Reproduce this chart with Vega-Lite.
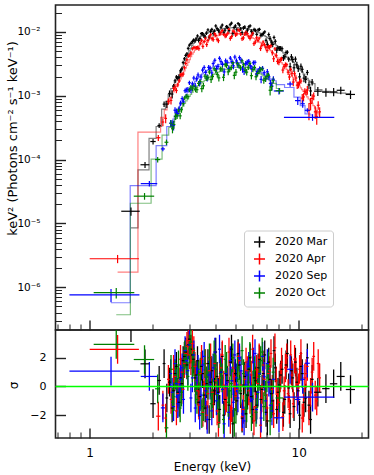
{
"$schema":"https://vega.github.io/schema/vega-lite/v6.json",
"padding":{"left":5.5,"top":4,"right":0,"bottom":0},
"spacing":0,
"bounds":"flush",
"config":{"font":"DejaVu Sans","view":{"stroke":"#222222","strokeWidth":1.6},
"axis":{"domain":false,"grid":false,"tickColor":"#222222","labelColor":"#000000","titleColor":"#000000","labelFontSize":11,"titleFontSize":12,"titleFontWeight":"normal","labelOverlap":false,"labelFlush":false,"labelBound":false},
"legend":{"symbolType":"M-1,0H1M0,-1V1","symbolSize":121,"symbolStrokeWidth":1.5,"symbolOpacity":1,"labelFontSize":11,"labelColor":"#000000","padding":5,"rowPadding":0,"strokeColor":"#cccccc","fillColor":"#ffffff","cornerRadius":3,"labelOffset":9,"symbolOffset":4}},
"datasets":{"d":[
{"s":"2020 Mar","e":1.576,"w":0.16,"f":1.55e-5,"d":2.3e-6,"m":8.5e-6,"r":4.1},
{"s":"2020 Mar","e":1.84,"w":0.09,"f":8.3e-5,"d":8.9e-6,"m":6.9e-5,"r":1.58},
{"s":"2020 Mar","e":2.01,"w":0.06,"f":1.92e-4,"d":1.9e-5,"m":2.15e-4,"r":-1.2},
{"s":"2020 Mar","e":2.15,"w":0.04,"f":3.42e-4,"d":3.0e-5,"m":3.3e-4,"r":0.42},
{"s":"2020 Mar","e":2.27,"w":0.035,"f":7.39e-4,"d":7.4e-5,"m":6.2e-4,"r":1.6},
{"s":"2020 Mar","e":2.34,"w":0.035,"f":7.41e-4,"d":9.8e-5,"m":8.2e-4,"r":-0.8},
{"s":"2020 Mar","e":2.41,"w":0.035,"f":1.088e-3,"d":1.26e-4,"m":1.05e-3,"r":0.3},
{"s":"2020 Mar","e":2.48,"w":0.037,"f":1.066e-3,"d":1.56e-4,"m":1.3e-3,"r":-1.5},
{"s":"2020 Mar","e":2.56,"w":0.038,"f":1.715e-3,"d":1.28e-4,"m":1.6e-3,"r":0.9},
{"s":"2020 Mar","e":2.64,"w":0.04,"f":1.888e-3,"d":1.56e-4,"m":1.95e-3,"r":-0.4},
{"s":"2020 Mar","e":2.72,"w":0.04,"f":2.463e-3,"d":1.88e-4,"m":2.35e-3,"r":0.6},
{"s":"2020 Mar","e":2.80,"w":0.042,"f":3.318e-3,"d":2.32e-4,"m":2.9e-3,"r":1.8},
{"s":"2020 Mar","e":2.88,"w":0.043,"f":4.29e-3,"d":2.88e-4,"m":3.6e-3,"r":2.4},
{"s":"2020 Mar","e":2.96,"w":0.044,"f":5.54e-3,"d":3.6e-4,"m":4.5e-3,"r":2.9},
{"s":"2020 Mar","e":3.05,"w":0.045,"f":6.62e-3,"d":3.92e-4,"m":5.6e-3,"r":2.6},
{"s":"2020 Mar","e":3.14,"w":0.047,"f":7.48e-3,"d":4.62e-4,"m":6.6e-3,"r":1.9},
{"s":"2020 Mar","e":3.23,"w":0.048,"f":7.81e-3,"d":5.18e-4,"m":7.4e-3,"r":0.8},
{"s":"2020 Mar","e":3.32,"w":0.05,"f":7.38e-3,"d":5.6e-4,"m":8.0e-3,"r":-1.1},
{"s":"2020 Mar","e":3.42,"w":0.051,"f":9.44e-3,"d":6.0e-4,"m":8.6e-3,"r":1.4},
{"s":"2020 Mar","e":3.52,"w":0.053,"f":8.72e-3,"d":6.4e-4,"m":9.1e-3,"r":-0.6},
{"s":"2020 Mar","e":3.62,"w":0.054,"f":9.63e-3,"d":6.65e-4,"m":9.5e-3,"r":0.2},
{"s":"2020 Mar","e":3.73,"w":0.056,"f":8.31e-3,"d":6.9e-4,"m":9.9e-3,"r":-2.3},
{"s":"2020 Mar","e":3.84,"w":0.058,"f":1.099e-2,"d":7.1e-4,"m":1.02e-2,"r":1.1},
{"s":"2020 Mar","e":3.95,"w":0.059,"f":1.028e-2,"d":7.35e-4,"m":1.05e-2,"r":-0.3},
{"s":"2020 Mar","e":4.07,"w":0.061,"f":1.133e-2,"d":7.6e-4,"m":1.08e-2,"r":0.7},
{"s":"2020 Mar","e":4.19,"w":0.063,"f":9.77e-3,"d":7.7e-4,"m":1.10e-2,"r":-1.6},
{"s":"2020 Mar","e":4.31,"w":0.065,"f":1.285e-2,"d":7.8e-4,"m":1.12e-2,"r":2.1},
{"s":"2020 Mar","e":4.44,"w":0.067,"f":1.068e-2,"d":8.0e-4,"m":1.14e-2,"r":-0.9},
{"s":"2020 Mar","e":4.57,"w":0.069,"f":1.182e-2,"d":8.05e-4,"m":1.15e-2,"r":0.4},
{"s":"2020 Mar","e":4.70,"w":0.07,"f":1.298e-2,"d":8.1e-4,"m":1.16e-2,"r":1.7},
{"s":"2020 Mar","e":4.84,"w":0.073,"f":9.57e-3,"d":8.2e-4,"m":1.17e-2,"r":-2.6},
{"s":"2020 Mar","e":4.98,"w":0.075,"f":1.244e-2,"d":8.2e-4,"m":1.17e-2,"r":0.9},
{"s":"2020 Mar","e":5.13,"w":0.077,"f":1.358e-2,"d":8.2e-4,"m":1.17e-2,"r":2.3},
{"s":"2020 Mar","e":5.28,"w":0.079,"f":1.119e-2,"d":8.1e-4,"m":1.16e-2,"r":-0.5},
{"s":"2020 Mar","e":5.44,"w":0.082,"f":1.158e-2,"d":8.05e-4,"m":1.15e-2,"r":0.1},
{"s":"2020 Mar","e":5.60,"w":0.084,"f":9.8e-3,"d":7.9e-4,"m":1.13e-2,"r":-1.9},
{"s":"2020 Mar","e":5.77,"w":0.087,"f":1.203e-2,"d":7.8e-4,"m":1.11e-2,"r":1.2},
{"s":"2020 Mar","e":5.94,"w":0.089,"f":1.027e-2,"d":7.6e-4,"m":1.08e-2,"r":-0.7},
{"s":"2020 Mar","e":6.12,"w":0.092,"f":1.094e-2,"d":7.35e-4,"m":1.05e-2,"r":0.6},
{"s":"2020 Mar","e":6.30,"w":0.095,"f":9.18e-3,"d":7.1e-4,"m":1.01e-2,"r":-1.3},
{"s":"2020 Mar","e":6.49,"w":0.097,"f":1.099e-2,"d":6.8e-4,"m":9.7e-3,"r":1.9},
{"s":"2020 Mar","e":6.68,"w":0.1,"f":9.07e-3,"d":6.4e-4,"m":9.2e-3,"r":-0.2},
{"s":"2020 Mar","e":6.88,"w":0.103,"f":1.004e-2,"d":6.1e-4,"m":8.7e-3,"r":2.2},
{"s":"2020 Mar","e":7.08,"w":0.106,"f":6.43e-3,"d":7.4e-4,"m":8.2e-3,"r":-2.4},
{"s":"2020 Mar","e":7.29,"w":0.11,"f":7.94e-3,"d":6.8e-4,"m":7.6e-3,"r":0.5},
{"s":"2020 Mar","e":7.51,"w":0.113,"f":6.37e-3,"d":6.3e-4,"m":7.0e-3,"r":-1.0},
{"s":"2020 Mar","e":7.73,"w":0.116,"f":7.15e-3,"d":5.8e-4,"m":6.4e-3,"r":1.3},
{"s":"2020 Mar","e":7.96,"w":0.12,"f":5.59e-3,"d":5.2e-4,"m":5.8e-3,"r":-0.4},
{"s":"2020 Mar","e":8.20,"w":0.123,"f":5.57e-3,"d":4.7e-4,"m":5.2e-3,"r":0.8},
{"s":"2020 Mar","e":8.45,"w":0.127,"f":3.94e-3,"d":4.2e-4,"m":4.7e-3,"r":-1.8},
{"s":"2020 Mar","e":8.70,"w":0.13,"f":4.77e-3,"d":3.8e-4,"m":4.2e-3,"r":1.5},
{"s":"2020 Mar","e":8.96,"w":0.134,"f":3.77e-3,"d":3.4e-4,"m":3.8e-3,"r":-0.1},
{"s":"2020 Mar","e":9.23,"w":0.138,"f":4.08e-3,"d":4.3e-4,"m":3.6e-3,"r":1.1},
{"s":"2020 Mar","e":9.50,"w":0.143,"f":2.75e-3,"d":4.0e-4,"m":3.3e-3,"r":-1.4},
{"s":"2020 Mar","e":9.80,"w":0.147,"f":3.06e-3,"d":3.5e-4,"m":2.95e-3,"r":0.3},
{"s":"2020 Mar","e":10.1,"w":0.15,"f":1.98e-3,"d":3.1e-4,"m":2.6e-3,"r":-2.0},
{"s":"2020 Mar","e":10.4,"w":0.16,"f":2.6e-3,"d":2.8e-4,"m":2.35e-3,"r":0.9},
{"s":"2020 Mar","e":10.8,"w":0.17,"f":1.81e-3,"d":2.4e-4,"m":2.0e-3,"r":-0.8},
{"s":"2020 Mar","e":11.2,"w":0.18,"f":1.48e-3,"d":2.1e-4,"m":1.75e-3,"r":-1.3},
{"s":"2020 Mar","e":11.6,"w":0.19,"f":1.64e-3,"d":1.86e-4,"m":1.55e-3,"r":0.5},
{"s":"2020 Mar","e":12.35,"w":0.5,"f":1.18e-3,"d":1.9e-4,"m":1.25e-3,"r":-0.4},
{"s":"2020 Mar","e":13.5,"w":0.55,"f":1.14e-3,"d":1.75e-4,"m":1.17e-3,"r":-0.15},
{"s":"2020 Mar","e":14.7,"w":0.6,"f":1.15e-3,"d":1.7e-4,"m":1.12e-3,"r":0.19},
{"s":"2020 Mar","e":15.9,"w":0.7,"f":1.22e-3,"d":1.65e-4,"m":1.1e-3,"r":0.7},
{"s":"2020 Mar","e":17.7,"w":0.9,"f":1.05e-3,"d":1.6e-4,"m":1.08e-3,"r":-0.21},
{"s":"2020 Mar","e":2.52,"w":0.038,"f":1.415e-3,"d":1.16e-4,"m":1.45e-3,"r":-0.3},
{"s":"2020 Mar","e":2.60,"w":0.039,"f":1.968e-3,"d":1.42e-4,"m":1.77e-3,"r":1.4},
{"s":"2020 Mar","e":2.68,"w":0.04,"f":1.96e-3,"d":1.72e-4,"m":2.15e-3,"r":-1.1},
{"s":"2020 Mar","e":2.76,"w":0.041,"f":2.64e-3,"d":2.08e-4,"m":2.6e-3,"r":0.2},
{"s":"2020 Mar","e":2.84,"w":0.043,"f":3.8e-3,"d":2.6e-4,"m":3.25e-3,"r":2.1},
{"s":"2020 Mar","e":2.92,"w":0.044,"f":4.54e-3,"d":3.24e-4,"m":4.05e-3,"r":1.5},
{"s":"2020 Mar","e":3.00,"w":0.045,"f":6.22e-3,"d":3.54e-4,"m":5.05e-3,"r":3.3},
{"s":"2020 Mar","e":3.10,"w":0.047,"f":7.04e-3,"d":4.27e-4,"m":6.1e-3,"r":2.2},
{"s":"2020 Mar","e":3.19,"w":0.048,"f":7.29e-3,"d":4.9e-4,"m":7.0e-3,"r":0.6},
{"s":"2020 Mar","e":3.28,"w":0.049,"f":8.67e-3,"d":5.4e-4,"m":7.7e-3,"r":1.8},
{"s":"2020 Mar","e":3.37,"w":0.05,"f":7.89e-3,"d":5.8e-4,"m":8.3e-3,"r":-0.7},
{"s":"2020 Mar","e":3.47,"w":0.052,"f":9.41e-3,"d":6.2e-4,"m":8.85e-3,"r":0.9},
{"s":"2020 Mar","e":3.57,"w":0.054,"f":8.32e-3,"d":6.5e-4,"m":9.3e-3,"r":-1.5},
{"s":"2020 Mar","e":3.68,"w":0.055,"f":1.079e-2,"d":6.8e-4,"m":9.7e-3,"r":1.6},
{"s":"2020 Mar","e":3.79,"w":0.057,"f":1.026e-2,"d":7.0e-4,"m":1.005e-2,"r":0.3},
{"s":"2020 Mar","e":3.90,"w":0.059,"f":9.48e-3,"d":7.2e-4,"m":1.035e-2,"r":-1.2},
{"s":"2020 Mar","e":4.01,"w":0.06,"f":1.244e-2,"d":7.5e-4,"m":1.065e-2,"r":2.4},
{"s":"2020 Mar","e":4.13,"w":0.062,"f":1.059e-2,"d":7.6e-4,"m":1.09e-2,"r":-0.4},
{"s":"2020 Mar","e":4.25,"w":0.064,"f":1.188e-2,"d":7.8e-4,"m":1.11e-2,"r":1.0},
{"s":"2020 Mar","e":4.38,"w":0.066,"f":9.72e-3,"d":7.9e-4,"m":1.13e-2,"r":-2.0},
{"s":"2020 Mar","e":4.51,"w":0.068,"f":1.209e-2,"d":8.0e-4,"m":1.145e-2,"r":0.8},
{"s":"2020 Mar","e":4.64,"w":0.07,"f":1.05e-2,"d":8.1e-4,"m":1.155e-2,"r":-1.3},
{"s":"2020 Mar","e":4.77,"w":0.072,"f":1.377e-2,"d":8.2e-4,"m":1.165e-2,"r":2.6},
{"s":"2020 Mar","e":4.91,"w":0.074,"f":1.17e-2,"d":8.2e-4,"m":1.17e-2,"r":0.0},
{"s":"2020 Mar","e":5.06,"w":0.076,"f":1.088e-2,"d":8.2e-4,"m":1.17e-2,"r":-1.0},
{"s":"2020 Mar","e":5.21,"w":0.078,"f":1.287e-2,"d":8.2e-4,"m":1.165e-2,"r":1.5},
{"s":"2020 Mar","e":5.36,"w":0.08,"f":9.77e-3,"d":8.1e-4,"m":1.155e-2,"r":-2.2},
{"s":"2020 Mar","e":5.52,"w":0.083,"f":1.196e-2,"d":8.0e-4,"m":1.14e-2,"r":0.7},
{"s":"2020 Mar","e":5.69,"w":0.085,"f":1.073e-2,"d":7.8e-4,"m":1.12e-2,"r":-0.6},
{"s":"2020 Mar","e":5.86,"w":0.088,"f":1.248e-2,"d":7.7e-4,"m":1.095e-2,"r":2.0},
{"s":"2020 Mar","e":6.03,"w":0.09,"f":9.46e-3,"d":7.5e-4,"m":1.065e-2,"r":-1.6},
{"s":"2020 Mar","e":6.21,"w":0.093,"f":1.059e-2,"d":7.2e-4,"m":1.03e-2,"r":0.4},
{"s":"2020 Mar","e":6.40,"w":0.096,"f":1.08e-2,"d":6.9e-4,"m":9.9e-3,"r":1.3},
{"s":"2020 Mar","e":6.59,"w":0.099,"f":8.85e-3,"d":6.6e-4,"m":9.45e-3,"r":-0.9},
{"s":"2020 Mar","e":6.78,"w":0.1,"f":9.51e-3,"d":6.3e-4,"m":8.95e-3,"r":0.9},
{"s":"2020 Mar","e":6.98,"w":0.104,"f":7.39e-3,"d":5.9e-4,"m":8.45e-3,"r":-1.8},
{"s":"2020 Mar","e":7.19,"w":0.108,"f":9.11e-3,"d":7.1e-4,"m":7.9e-3,"r":1.7},
{"s":"2020 Mar","e":7.40,"w":0.111,"f":6.97e-3,"d":6.6e-4,"m":7.3e-3,"r":-0.5},
{"s":"2020 Mar","e":7.62,"w":0.114,"f":8.21e-3,"d":6.0e-4,"m":6.7e-3,"r":2.5},
{"s":"2020 Mar","e":7.85,"w":0.118,"f":5.22e-3,"d":5.5e-4,"m":6.1e-3,"r":-1.6},
{"s":"2020 Mar","e":8.08,"w":0.121,"f":5.55e-3,"d":5.0e-4,"m":5.5e-3,"r":0.1},
{"s":"2020 Mar","e":8.33,"w":0.125,"f":5.48e-3,"d":4.5e-4,"m":4.95e-3,"r":1.2},
{"s":"2020 Mar","e":8.58,"w":0.129,"f":4.09e-3,"d":4.0e-4,"m":4.45e-3,"r":-0.9},
{"s":"2020 Mar","e":8.83,"w":0.132,"f":4.83e-3,"d":3.6e-4,"m":4.0e-3,"r":2.3},
{"s":"2020 Mar","e":9.1,"w":0.136,"f":2.86e-3,"d":4.4e-4,"m":3.7e-3,"r":-1.9},
{"s":"2020 Mar","e":9.37,"w":0.14,"f":3.7e-3,"d":4.1e-4,"m":3.45e-3,"r":0.6},
{"s":"2020 Mar","e":9.65,"w":0.145,"f":3.76e-3,"d":3.7e-4,"m":3.12e-3,"r":1.7},
{"s":"2020 Mar","e":9.95,"w":0.15,"f":2.68e-3,"d":3.3e-4,"m":2.78e-3,"r":-0.3},
{"s":"2020 Mar","e":10.25,"w":0.154,"f":2.9e-3,"d":3.0e-4,"m":2.48e-3,"r":1.4},
{"s":"2020 Mar","e":10.6,"w":0.16,"f":1.89e-3,"d":2.6e-4,"m":2.18e-3,"r":-1.1},
{"s":"2020 Mar","e":11.0,"w":0.165,"f":2.32e-3,"d":2.2e-4,"m":1.87e-3,"r":2.0},
{"s":"2020 Mar","e":11.4,"w":0.17,"f":1.19e-3,"d":2.0e-4,"m":1.65e-3,"r":-2.3},
{"s":"2020 Apr","e":1.36,"w":0.36,"f":2.79e-6,"d":4.1e-7,"m":1.72e-6,"r":2.58},
{"s":"2020 Apr","e":2.13,"w":0.05,"f":2.2e-4,"d":2.4e-5,"m":2.7e-4,"r":-2.07},
{"s":"2020 Apr","e":2.24,"w":0.034,"f":3.88e-4,"d":5.5e-5,"m":4.6e-4,"r":-1.3},
{"s":"2020 Apr","e":2.31,"w":0.035,"f":4.42e-4,"d":7.2e-5,"m":6.0e-4,"r":-2.2},
{"s":"2020 Apr","e":2.38,"w":0.036,"f":8.16e-4,"d":9.2e-5,"m":7.7e-4,"r":0.5},
{"s":"2020 Apr","e":2.45,"w":0.037,"f":8.47e-4,"d":1.14e-4,"m":9.5e-4,"r":-0.9},
{"s":"2020 Apr","e":2.52,"w":0.038,"f":1.316e-3,"d":1.38e-4,"m":1.15e-3,"r":1.2},
{"s":"2020 Apr","e":2.60,"w":0.039,"f":1.21e-3,"d":1.12e-4,"m":1.4e-3,"r":-1.7},
{"s":"2020 Apr","e":2.68,"w":0.04,"f":1.72e-3,"d":1.34e-4,"m":1.68e-3,"r":0.3},
{"s":"2020 Apr","e":2.76,"w":0.041,"f":2.16e-3,"d":1.6e-4,"m":2.0e-3,"r":1.0},
{"s":"2020 Apr","e":2.84,"w":0.043,"f":2.76e-3,"d":1.96e-4,"m":2.45e-3,"r":1.6},
{"s":"2020 Apr","e":2.92,"w":0.044,"f":3.67e-3,"d":2.4e-4,"m":3.0e-3,"r":2.8},
{"s":"2020 Apr","e":3.01,"w":0.045,"f":4.35e-3,"d":2.96e-4,"m":3.7e-3,"r":2.2},
{"s":"2020 Apr","e":3.10,"w":0.047,"f":5.45e-3,"d":3.15e-4,"m":4.5e-3,"r":3.0},
{"s":"2020 Apr","e":3.19,"w":0.048,"f":5.71e-3,"d":3.64e-4,"m":5.2e-3,"r":1.4},
{"s":"2020 Apr","e":3.28,"w":0.049,"f":5.68e-3,"d":4.06e-4,"m":5.8e-3,"r":-0.3},
{"s":"2020 Apr","e":3.38,"w":0.051,"f":6.7e-3,"d":4.4e-4,"m":6.3e-3,"r":0.9},
{"s":"2020 Apr","e":3.48,"w":0.052,"f":5.94e-3,"d":4.76e-4,"m":6.8e-3,"r":-1.8},
{"s":"2020 Apr","e":3.58,"w":0.054,"f":8.01e-3,"d":5.0e-4,"m":7.2e-3,"r":1.6},
{"s":"2020 Apr","e":3.68,"w":0.055,"f":7.33e-3,"d":5.3e-4,"m":7.6e-3,"r":-0.5},
{"s":"2020 Apr","e":3.79,"w":0.057,"f":9.06e-3,"d":5.6e-4,"m":7.95e-3,"r":2.0},
{"s":"2020 Apr","e":3.90,"w":0.059,"f":7.6e-3,"d":5.8e-4,"m":8.3e-3,"r":-1.2},
{"s":"2020 Apr","e":4.01,"w":0.06,"f":8.84e-3,"d":6.0e-4,"m":8.6e-3,"r":0.4},
{"s":"2020 Apr","e":4.13,"w":0.062,"f":7.3e-3,"d":6.2e-4,"m":8.85e-3,"r":-2.5},
{"s":"2020 Apr","e":4.25,"w":0.064,"f":9.87e-3,"d":6.3e-4,"m":9.05e-3,"r":1.3},
{"s":"2020 Apr","e":4.38,"w":0.066,"f":9.26e-3,"d":6.4e-4,"m":9.2e-3,"r":0.1},
{"s":"2020 Apr","e":4.51,"w":0.068,"f":8.83e-3,"d":6.5e-4,"m":9.35e-3,"r":-0.8},
{"s":"2020 Apr","e":4.64,"w":0.07,"f":1.104e-2,"d":6.6e-4,"m":9.45e-3,"r":2.4},
{"s":"2020 Apr","e":4.78,"w":0.072,"f":8.5e-3,"d":6.65e-4,"m":9.5e-3,"r":-1.5},
{"s":"2020 Apr","e":4.92,"w":0.074,"f":9.97e-3,"d":6.65e-4,"m":9.5e-3,"r":0.7},
{"s":"2020 Apr","e":5.06,"w":0.076,"f":9.32e-3,"d":6.6e-4,"m":9.45e-3,"r":-0.2},
{"s":"2020 Apr","e":5.21,"w":0.078,"f":1.053e-2,"d":6.5e-4,"m":9.35e-3,"r":1.8},
{"s":"2020 Apr","e":5.36,"w":0.08,"f":7.85e-3,"d":6.4e-4,"m":9.2e-3,"r":-2.1},
{"s":"2020 Apr","e":5.52,"w":0.083,"f":9.32e-3,"d":6.3e-4,"m":9.0e-3,"r":0.5},
{"s":"2020 Apr","e":5.68,"w":0.085,"f":9.42e-3,"d":6.1e-4,"m":8.75e-3,"r":1.1},
{"s":"2020 Apr","e":5.85,"w":0.088,"f":7.92e-3,"d":5.9e-4,"m":8.45e-3,"r":-0.9},
{"s":"2020 Apr","e":6.02,"w":0.09,"f":9.57e-3,"d":5.7e-4,"m":8.1e-3,"r":2.6},
{"s":"2020 Apr","e":6.20,"w":0.093,"f":6.95e-3,"d":5.4e-4,"m":7.7e-3,"r":-1.4},
{"s":"2020 Apr","e":6.38,"w":0.096,"f":7.35e-3,"d":5.1e-4,"m":7.25e-3,"r":0.2},
{"s":"2020 Apr","e":6.57,"w":0.099,"f":5.51e-3,"d":4.8e-4,"m":6.8e-3,"r":-2.7},
{"s":"2020 Apr","e":6.76,"w":0.1,"f":6.96e-3,"d":4.4e-4,"m":6.3e-3,"r":1.5},
{"s":"2020 Apr","e":6.96,"w":0.104,"f":5.7e-3,"d":4.2e-4,"m":5.95e-3,"r":-0.6},
{"s":"2020 Apr","e":7.16,"w":0.107,"f":5.95e-3,"d":5.0e-4,"m":5.5e-3,"r":0.9},
{"s":"2020 Apr","e":7.37,"w":0.11,"f":6.1e-3,"d":4.5e-4,"m":5.05e-3,"r":2.3},
{"s":"2020 Apr","e":7.59,"w":0.114,"f":3.81e-3,"d":4.1e-4,"m":4.6e-3,"r":-1.9},
{"s":"2020 Apr","e":7.81,"w":0.117,"f":4.3e-3,"d":3.7e-4,"m":4.15e-3,"r":0.4},
{"s":"2020 Apr","e":8.04,"w":0.12,"f":3.33e-3,"d":3.3e-4,"m":3.7e-3,"r":-1.1},
{"s":"2020 Apr","e":8.28,"w":0.124,"f":3.8e-3,"d":3.0e-4,"m":3.3e-3,"r":1.7},
{"s":"2020 Apr","e":8.52,"w":0.128,"f":2.87e-3,"d":2.66e-4,"m":2.95e-3,"r":-0.3},
{"s":"2020 Apr","e":8.77,"w":0.13,"f":3.07e-3,"d":2.34e-4,"m":2.6e-3,"r":2.0},
{"s":"2020 Apr","e":9.03,"w":0.135,"f":1.97e-3,"d":2.07e-4,"m":2.3e-3,"r":-1.6},
{"s":"2020 Apr","e":9.29,"w":0.14,"f":2.25e-3,"d":2.46e-4,"m":2.05e-3,"r":0.8},
{"s":"2020 Apr","e":9.56,"w":0.143,"f":2.21e-3,"d":2.16e-4,"m":1.8e-3,"r":1.9},
{"s":"2020 Apr","e":9.84,"w":0.148,"f":1.47e-3,"d":1.92e-4,"m":1.6e-3,"r":-0.7},
{"s":"2020 Apr","e":10.1,"w":0.15,"f":1.62e-3,"d":1.7e-4,"m":1.42e-3,"r":1.2},
{"s":"2020 Apr","e":10.4,"w":0.156,"f":9.2e-4,"d":1.5e-4,"m":1.25e-3,"r":-2.2},
{"s":"2020 Apr","e":10.7,"w":0.16,"f":1.18e-3,"d":1.32e-4,"m":1.1e-3,"r":0.6},
{"s":"2020 Apr","e":11.0,"w":0.165,"f":1.23e-3,"d":1.92e-4,"m":9.6e-4,"r":1.4},
{"s":"2020 Apr","e":11.4,"w":0.17,"f":7.6e-4,"d":1.66e-4,"m":8.3e-4,"r":-0.4},
{"s":"2020 Apr","e":11.8,"w":0.18,"f":9.9e-4,"d":1.4e-4,"m":7.0e-4,"r":2.1},
{"s":"2020 Apr","e":12.2,"w":0.18,"f":4.7e-4,"d":1.18e-4,"m":5.9e-4,"r":-1.0},
{"s":"2020 Apr","e":12.6,"w":0.19,"f":5.6e-4,"d":1.0e-4,"m":5.0e-4,"r":0.6},
{"s":"2020 Apr","e":2.56,"w":0.038,"f":1.377e-3,"d":1.52e-4,"m":1.27e-3,"r":0.7},
{"s":"2020 Apr","e":2.64,"w":0.04,"f":1.478e-3,"d":1.23e-4,"m":1.54e-3,"r":-0.5},
{"s":"2020 Apr","e":2.72,"w":0.041,"f":2.12e-3,"d":1.47e-4,"m":1.84e-3,"r":1.9},
{"s":"2020 Apr","e":2.80,"w":0.042,"f":2.18e-3,"d":1.78e-4,"m":2.22e-3,"r":-0.2},
{"s":"2020 Apr","e":2.88,"w":0.043,"f":3.22e-3,"d":2.18e-4,"m":2.72e-3,"r":2.3},
{"s":"2020 Apr","e":2.97,"w":0.045,"f":4.21e-3,"d":2.68e-4,"m":3.35e-3,"r":3.2},
{"s":"2020 Apr","e":3.05,"w":0.046,"f":4.69e-3,"d":3.28e-4,"m":4.1e-3,"r":1.8},
{"s":"2020 Apr","e":3.15,"w":0.047,"f":5.7e-3,"d":3.4e-4,"m":4.85e-3,"r":2.5},
{"s":"2020 Apr","e":3.24,"w":0.049,"f":5.65e-3,"d":3.85e-4,"m":5.5e-3,"r":0.4},
{"s":"2020 Apr","e":3.33,"w":0.05,"f":5.5e-3,"d":4.2e-4,"m":6.05e-3,"r":-1.3},
{"s":"2020 Apr","e":3.43,"w":0.051,"f":7.42e-3,"d":4.6e-4,"m":6.55e-3,"r":1.9},
{"s":"2020 Apr","e":3.53,"w":0.053,"f":7.1e-3,"d":4.9e-4,"m":7.0e-3,"r":0.2},
{"s":"2020 Apr","e":3.63,"w":0.054,"f":6.36e-3,"d":5.2e-4,"m":7.4e-3,"r":-2.0},
{"s":"2020 Apr","e":3.74,"w":0.056,"f":8.38e-3,"d":5.4e-4,"m":7.78e-3,"r":1.1},
{"s":"2020 Apr","e":3.85,"w":0.058,"f":7.89e-3,"d":5.7e-4,"m":8.12e-3,"r":-0.4},
{"s":"2020 Apr","e":3.96,"w":0.059,"f":9.4e-3,"d":5.9e-4,"m":8.45e-3,"r":1.6},
{"s":"2020 Apr","e":4.07,"w":0.061,"f":7.68e-3,"d":6.1e-4,"m":8.72e-3,"r":-1.7},
{"s":"2020 Apr","e":4.19,"w":0.063,"f":9.33e-3,"d":6.3e-4,"m":8.95e-3,"r":0.6},
{"s":"2020 Apr","e":4.31,"w":0.065,"f":1.052e-2,"d":6.4e-4,"m":9.12e-3,"r":2.2},
{"s":"2020 Apr","e":4.45,"w":0.067,"f":8.63e-3,"d":6.5e-4,"m":9.28e-3,"r":-1.0},
{"s":"2020 Apr","e":4.58,"w":0.069,"f":9.6e-3,"d":6.6e-4,"m":9.4e-3,"r":0.3},
{"s":"2020 Apr","e":4.71,"w":0.071,"f":7.95e-3,"d":6.6e-4,"m":9.48e-3,"r":-2.3},
{"s":"2020 Apr","e":4.85,"w":0.073,"f":1.036e-2,"d":6.65e-4,"m":9.5e-3,"r":1.3},
{"s":"2020 Apr","e":4.99,"w":0.075,"f":9.02e-3,"d":6.6e-4,"m":9.48e-3,"r":-0.7},
{"s":"2020 Apr","e":5.13,"w":0.077,"f":1.078e-2,"d":6.6e-4,"m":9.4e-3,"r":2.1},
{"s":"2020 Apr","e":5.28,"w":0.079,"f":9.34e-3,"d":6.5e-4,"m":9.28e-3,"r":0.1},
{"s":"2020 Apr","e":5.44,"w":0.082,"f":8.08e-3,"d":6.4e-4,"m":9.1e-3,"r":-1.6},
{"s":"2020 Apr","e":5.60,"w":0.084,"f":9.94e-3,"d":6.2e-4,"m":8.88e-3,"r":1.7},
{"s":"2020 Apr","e":5.77,"w":0.087,"f":8.42e-3,"d":6.0e-4,"m":8.6e-3,"r":-0.3},
{"s":"2020 Apr","e":5.93,"w":0.089,"f":8.74e-3,"d":5.8e-4,"m":8.28e-3,"r":0.8},
{"s":"2020 Apr","e":6.11,"w":0.092,"f":6.57e-3,"d":5.5e-4,"m":7.9e-3,"r":-2.4},
{"s":"2020 Apr","e":6.29,"w":0.094,"f":8.11e-3,"d":5.2e-4,"m":7.48e-3,"r":1.2},
{"s":"2020 Apr","e":6.47,"w":0.097,"f":8.0e-3,"d":4.9e-4,"m":7.02e-3,"r":2.0},
{"s":"2020 Apr","e":6.66,"w":0.1,"f":6.18e-3,"d":4.6e-4,"m":6.55e-3,"r":-0.8},
{"s":"2020 Apr","e":6.86,"w":0.103,"f":6.33e-3,"d":4.3e-4,"m":6.12e-3,"r":0.5},
{"s":"2020 Apr","e":7.06,"w":0.106,"f":5.12e-3,"d":4.0e-4,"m":5.72e-3,"r":-1.5},
{"s":"2020 Apr","e":7.26,"w":0.109,"f":5.79e-3,"d":4.7e-4,"m":5.27e-3,"r":1.1},
{"s":"2020 Apr","e":7.48,"w":0.112,"f":4.73e-3,"d":4.3e-4,"m":4.82e-3,"r":-0.2},
{"s":"2020 Apr","e":7.70,"w":0.116,"f":5.44e-3,"d":3.9e-4,"m":4.38e-3,"r":2.7},
{"s":"2020 Apr","e":7.92,"w":0.119,"f":3.46e-3,"d":3.5e-4,"m":3.92e-3,"r":-1.3},
{"s":"2020 Apr","e":8.16,"w":0.122,"f":3.69e-3,"d":3.15e-4,"m":3.5e-3,"r":0.6},
{"s":"2020 Apr","e":8.40,"w":0.126,"f":2.53e-3,"d":2.8e-4,"m":3.12e-3,"r":-2.1},
{"s":"2020 Apr","e":8.64,"w":0.13,"f":3.09e-3,"d":2.5e-4,"m":2.77e-3,"r":1.3},
{"s":"2020 Apr","e":8.90,"w":0.134,"f":2.34e-3,"d":2.2e-4,"m":2.45e-3,"r":-0.5},
{"s":"2020 Apr","e":9.16,"w":0.137,"f":2.6e-3,"d":1.95e-4,"m":2.17e-3,"r":2.2},
{"s":"2020 Apr","e":9.42,"w":0.141,"f":1.64e-3,"d":2.3e-4,"m":1.92e-3,"r":-1.2},
{"s":"2020 Apr","e":9.70,"w":0.145,"f":1.9e-3,"d":2.0e-4,"m":1.7e-3,"r":1.0},
{"s":"2020 Apr","e":9.97,"w":0.15,"f":1.49e-3,"d":1.8e-4,"m":1.51e-3,"r":-0.1},
{"s":"2020 Apr","e":10.25,"w":0.154,"f":1.7e-3,"d":1.6e-4,"m":1.33e-3,"r":2.3},
{"s":"2020 Apr","e":10.55,"w":0.158,"f":9.6e-4,"d":1.4e-4,"m":1.17e-3,"r":-1.5},
{"s":"2020 Apr","e":10.85,"w":0.163,"f":1.14e-3,"d":1.24e-4,"m":1.03e-3,"r":0.9},
{"s":"2020 Apr","e":11.2,"w":0.17,"f":5.9e-4,"d":1.78e-4,"m":8.9e-4,"r":-1.7},
{"s":"2020 Apr","e":11.6,"w":0.175,"f":9.1e-4,"d":1.52e-4,"m":7.6e-4,"r":1.0},
{"s":"2020 Apr","e":12.0,"w":0.18,"f":5.6e-4,"d":1.28e-4,"m":6.4e-4,"r":-0.6},
{"s":"2020 Apr","e":12.4,"w":0.19,"f":7.1e-4,"d":1.08e-4,"m":5.4e-4,"r":1.6},
{"s":"2020 Sep","e":1.265,"w":0.465,"f":7.6e-7,"d":1.78e-7,"m":5.7e-7,"r":1.07},
{"s":"2020 Sep","e":1.93,"w":0.175,"f":4.2e-5,"d":4.3e-6,"m":3.9e-5,"r":0.7},
{"s":"2020 Sep","e":2.24,"w":0.05,"f":1.47e-4,"d":1.2e-5,"m":1.65e-4,"r":-1.49},
{"s":"2020 Sep","e":2.44,"w":0.04,"f":3.72e-4,"d":4.6e-5,"m":3.3e-4,"r":0.9},
{"s":"2020 Sep","e":2.52,"w":0.042,"f":3.46e-4,"d":6.0e-5,"m":4.3e-4,"r":-1.4},
{"s":"2020 Sep","e":2.60,"w":0.043,"f":5.55e-4,"d":7.6e-5,"m":5.4e-4,"r":0.2},
{"s":"2020 Sep","e":2.68,"w":0.045,"f":6.2e-4,"d":6.6e-5,"m":6.6e-4,"r":-0.6},
{"s":"2020 Sep","e":2.77,"w":0.046,"f":9.04e-4,"d":8.0e-5,"m":8.0e-4,"r":1.3},
{"s":"2020 Sep","e":2.86,"w":0.048,"f":1.2e-3,"d":9.6e-5,"m":9.6e-4,"r":2.5},
{"s":"2020 Sep","e":2.95,"w":0.049,"f":1.265e-3,"d":1.14e-4,"m":1.14e-3,"r":1.1},
{"s":"2020 Sep","e":3.05,"w":0.051,"f":1.233e-3,"d":1.34e-4,"m":1.34e-3,"r":-0.8},
{"s":"2020 Sep","e":3.15,"w":0.052,"f":1.9e-3,"d":1.56e-4,"m":1.56e-3,"r":2.2},
{"s":"2020 Sep","e":3.25,"w":0.054,"f":1.85e-3,"d":1.78e-4,"m":1.78e-3,"r":0.4},
{"s":"2020 Sep","e":3.36,"w":0.056,"f":1.6e-3,"d":2.0e-4,"m":2.0e-3,"r":-2.0},
{"s":"2020 Sep","e":3.47,"w":0.058,"f":2.53e-3,"d":2.2e-4,"m":2.2e-3,"r":1.5},
{"s":"2020 Sep","e":3.59,"w":0.06,"f":2.33e-3,"d":2.4e-4,"m":2.4e-3,"r":-0.3},
{"s":"2020 Sep","e":3.71,"w":0.062,"f":2.79e-3,"d":2.58e-4,"m":2.58e-3,"r":0.8},
{"s":"2020 Sep","e":3.84,"w":0.064,"f":2.28e-3,"d":2.75e-4,"m":2.75e-3,"r":-1.7},
{"s":"2020 Sep","e":3.97,"w":0.066,"f":3.6e-3,"d":2.9e-4,"m":2.9e-3,"r":2.4},
{"s":"2020 Sep","e":4.11,"w":0.068,"f":2.87e-3,"d":3.0e-4,"m":3.02e-3,"r":-0.5},
{"s":"2020 Sep","e":4.25,"w":0.071,"f":3.43e-3,"d":3.1e-4,"m":3.12e-3,"r":1.0},
{"s":"2020 Sep","e":4.40,"w":0.073,"f":2.37e-3,"d":3.2e-4,"m":3.2e-3,"r":-2.6},
{"s":"2020 Sep","e":4.55,"w":0.076,"f":3.36e-3,"d":3.26e-4,"m":3.26e-3,"r":0.3},
{"s":"2020 Sep","e":4.71,"w":0.078,"f":3.89e-3,"d":3.3e-4,"m":3.3e-3,"r":1.8},
{"s":"2020 Sep","e":4.87,"w":0.081,"f":2.95e-3,"d":3.32e-4,"m":3.32e-3,"r":-1.1},
{"s":"2020 Sep","e":5.04,"w":0.084,"f":3.52e-3,"d":3.32e-4,"m":3.32e-3,"r":0.6},
{"s":"2020 Sep","e":5.21,"w":0.087,"f":3.96e-3,"d":3.3e-4,"m":3.3e-3,"r":2.0},
{"s":"2020 Sep","e":5.39,"w":0.09,"f":2.62e-3,"d":3.24e-4,"m":3.24e-3,"r":-1.9},
{"s":"2020 Sep","e":5.58,"w":0.093,"f":3.19e-3,"d":3.16e-4,"m":3.16e-3,"r":0.1},
{"s":"2020 Sep","e":5.77,"w":0.096,"f":3.48e-3,"d":3.05e-4,"m":3.05e-3,"r":1.4},
{"s":"2020 Sep","e":5.97,"w":0.1,"f":2.64e-3,"d":2.9e-4,"m":2.9e-3,"r":-0.9},
{"s":"2020 Sep","e":6.18,"w":0.103,"f":3.35e-3,"d":2.72e-4,"m":2.72e-3,"r":2.3},
{"s":"2020 Sep","e":6.39,"w":0.106,"f":2.42e-3,"d":2.52e-4,"m":2.52e-3,"r":-0.4},
{"s":"2020 Sep","e":6.61,"w":0.11,"f":1.81e-3,"d":2.32e-4,"m":2.32e-3,"r":-2.2},
{"s":"2020 Sep","e":6.84,"w":0.114,"f":2.3e-3,"d":2.15e-4,"m":2.15e-3,"r":0.7},
{"s":"2020 Sep","e":7.08,"w":0.118,"f":2.38e-3,"d":2.4e-4,"m":2.0e-3,"r":1.6},
{"s":"2020 Sep","e":7.32,"w":0.122,"f":1.56e-3,"d":2.2e-4,"m":1.85e-3,"r":-1.3},
{"s":"2020 Sep","e":7.57,"w":0.126,"f":1.82e-3,"d":2.06e-4,"m":1.72e-3,"r":0.5},
{"s":"2020 Sep","e":8.05,"w":0.45,"f":1.19e-3,"d":1.4e-4,"m":1.5e-3,"r":-2.18},
{"s":"2020 Sep","e":9.1,"w":0.3,"f":1.53e-3,"d":1.5e-4,"m":1.35e-3,"r":1.2},
{"s":"2020 Sep","e":9.9,"w":0.3,"f":8.4e-4,"d":1.2e-4,"m":9.5e-4,"r":-0.9},
{"s":"2020 Sep","e":10.45,"w":0.25,"f":7.5e-4,"d":1.0e-4,"m":7.0e-4,"r":0.5},
{"s":"2020 Sep","e":11.0,"w":0.3,"f":5.93e-4,"d":4.5e-5,"m":5.2e-4,"r":1.62},
{"s":"2020 Sep","e":11.65,"w":3.15,"f":4.6e-4,"d":5.5e-5,"m":5.0e-4,"r":-0.74},
{"s":"2020 Sep","e":2.48,"w":0.041,"f":3.59e-4,"d":5.3e-5,"m":3.8e-4,"r":-0.4},
{"s":"2020 Sep","e":2.56,"w":0.042,"f":5.94e-4,"d":6.8e-5,"m":4.85e-4,"r":1.6},
{"s":"2020 Sep","e":2.64,"w":0.044,"f":5.28e-4,"d":6.0e-5,"m":6.0e-4,"r":-1.2},
{"s":"2020 Sep","e":2.72,"w":0.045,"f":7.67e-4,"d":7.3e-5,"m":7.3e-4,"r":0.5},
{"s":"2020 Sep","e":2.81,"w":0.047,"f":8.01e-4,"d":8.8e-5,"m":8.8e-4,"r":-0.9},
{"s":"2020 Sep","e":2.90,"w":0.048,"f":1.239e-3,"d":1.05e-4,"m":1.05e-3,"r":1.8},
{"s":"2020 Sep","e":3.00,"w":0.05,"f":1.6e-3,"d":1.24e-4,"m":1.24e-3,"r":2.9},
{"s":"2020 Sep","e":3.10,"w":0.051,"f":1.537e-3,"d":1.45e-4,"m":1.45e-3,"r":0.6},
{"s":"2020 Sep","e":3.20,"w":0.053,"f":1.42e-3,"d":1.67e-4,"m":1.67e-3,"r":-1.5},
{"s":"2020 Sep","e":3.30,"w":0.055,"f":2.12e-3,"d":1.89e-4,"m":1.89e-3,"r":1.2},
{"s":"2020 Sep","e":3.41,"w":0.057,"f":1.97e-3,"d":2.1e-4,"m":2.1e-3,"r":-0.6},
{"s":"2020 Sep","e":3.53,"w":0.059,"f":2.78e-3,"d":2.3e-4,"m":2.3e-3,"r":2.1},
{"s":"2020 Sep","e":3.65,"w":0.061,"f":1.92e-3,"d":2.49e-4,"m":2.49e-3,"r":-2.3},
{"s":"2020 Sep","e":3.77,"w":0.063,"f":2.7e-3,"d":2.67e-4,"m":2.67e-3,"r":0.1},
{"s":"2020 Sep","e":3.90,"w":0.065,"f":3.2e-3,"d":2.83e-4,"m":2.83e-3,"r":1.3},
{"s":"2020 Sep","e":4.04,"w":0.067,"f":2.66e-3,"d":2.96e-4,"m":2.96e-3,"r":-1.0},
{"s":"2020 Sep","e":4.18,"w":0.07,"f":3.87e-3,"d":3.07e-4,"m":3.07e-3,"r":2.6},
{"s":"2020 Sep","e":4.32,"w":0.072,"f":3.1e-3,"d":3.16e-4,"m":3.16e-3,"r":-0.2},
{"s":"2020 Sep","e":4.47,"w":0.075,"f":3.52e-3,"d":3.23e-4,"m":3.23e-3,"r":0.9},
{"s":"2020 Sep","e":4.63,"w":0.077,"f":2.69e-3,"d":3.28e-4,"m":3.28e-3,"r":-1.8},
{"s":"2020 Sep","e":4.79,"w":0.08,"f":3.44e-3,"d":3.31e-4,"m":3.31e-3,"r":0.4},
{"s":"2020 Sep","e":4.95,"w":0.083,"f":4.05e-3,"d":3.32e-4,"m":3.32e-3,"r":2.2},
{"s":"2020 Sep","e":5.12,"w":0.085,"f":3.05e-3,"d":3.31e-4,"m":3.31e-3,"r":-0.8},
{"s":"2020 Sep","e":5.30,"w":0.088,"f":3.63e-3,"d":3.27e-4,"m":3.27e-3,"r":1.1},
{"s":"2020 Sep","e":5.48,"w":0.091,"f":2.43e-3,"d":3.2e-4,"m":3.2e-3,"r":-2.4},
{"s":"2020 Sep","e":5.67,"w":0.095,"f":3.35e-3,"d":3.1e-4,"m":3.1e-3,"r":0.8},
{"s":"2020 Sep","e":5.87,"w":0.098,"f":2.95e-3,"d":2.98e-4,"m":2.98e-3,"r":-0.1},
{"s":"2020 Sep","e":6.07,"w":0.101,"f":3.29e-3,"d":2.81e-4,"m":2.81e-3,"r":1.7},
{"s":"2020 Sep","e":6.28,"w":0.105,"f":2.2e-3,"d":2.62e-4,"m":2.62e-3,"r":-1.6},
{"s":"2020 Sep","e":6.50,"w":0.108,"f":2.64e-3,"d":2.42e-4,"m":2.42e-3,"r":0.9},
{"s":"2020 Sep","e":6.72,"w":0.112,"f":2.7e-3,"d":2.23e-4,"m":2.23e-3,"r":2.1},
{"s":"2020 Sep","e":6.96,"w":0.116,"f":1.86e-3,"d":2.07e-4,"m":2.07e-3,"r":-1.0},
{"s":"2020 Sep","e":7.20,"w":0.12,"f":1.99e-3,"d":2.3e-4,"m":1.92e-3,"r":0.3},
{"s":"2020 Sep","e":7.45,"w":0.124,"f":1.42e-3,"d":2.14e-4,"m":1.78e-3,"r":-1.7},
{"s":"2020 Oct","e":1.34,"w":0.295,"f":8.2e-7,"d":1.54e-7,"m":3.7e-7,"r":2.93},
{"s":"2020 Oct","e":1.83,"w":0.205,"f":2.67e-5,"d":3.2e-6,"m":2.07e-5,"r":1.88},
{"s":"2020 Oct","e":2.115,"w":0.06,"f":1.0e-4,"d":1.0e-5,"m":1.02e-4,"r":-0.16},
{"s":"2020 Oct","e":2.33,"w":0.05,"f":1.87e-4,"d":1.9e-5,"m":2.42e-4,"r":-2.88},
{"s":"2020 Oct","e":2.45,"w":0.04,"f":3.7e-4,"d":4.2e-5,"m":3.2e-4,"r":1.2},
{"s":"2020 Oct","e":2.53,"w":0.042,"f":3.55e-4,"d":5.1e-5,"m":3.9e-4,"r":-0.7},
{"s":"2020 Oct","e":2.62,"w":0.043,"f":4.94e-4,"d":6.1e-5,"m":4.7e-4,"r":0.4},
{"s":"2020 Oct","e":2.71,"w":0.045,"f":4.85e-4,"d":5.7e-5,"m":5.7e-4,"r":-1.5},
{"s":"2020 Oct","e":2.80,"w":0.046,"f":7.52e-4,"d":6.9e-5,"m":6.9e-4,"r":0.9},
{"s":"2020 Oct","e":2.90,"w":0.048,"f":9.88e-4,"d":8.3e-5,"m":8.3e-4,"r":1.9},
{"s":"2020 Oct","e":3.00,"w":0.05,"f":1.235e-3,"d":9.8e-5,"m":9.8e-4,"r":2.6},
{"s":"2020 Oct","e":3.10,"w":0.051,"f":1.277e-3,"d":1.13e-4,"m":1.13e-3,"r":1.3},
{"s":"2020 Oct","e":3.21,"w":0.053,"f":1.264e-3,"d":1.29e-4,"m":1.29e-3,"r":-0.2},
{"s":"2020 Oct","e":3.32,"w":0.055,"f":1.566e-3,"d":1.45e-4,"m":1.45e-3,"r":0.8},
{"s":"2020 Oct","e":3.44,"w":0.057,"f":1.296e-3,"d":1.6e-4,"m":1.6e-3,"r":-1.9},
{"s":"2020 Oct","e":3.56,"w":0.059,"f":2.03e-3,"d":1.75e-4,"m":1.75e-3,"r":1.6},
{"s":"2020 Oct","e":3.68,"w":0.061,"f":1.92e-3,"d":1.9e-4,"m":1.9e-3,"r":0.1},
{"s":"2020 Oct","e":3.81,"w":0.063,"f":1.795e-3,"d":2.04e-4,"m":2.04e-3,"r":-1.2},
{"s":"2020 Oct","e":3.94,"w":0.065,"f":2.65e-3,"d":2.17e-4,"m":2.17e-3,"r":2.2},
{"s":"2020 Oct","e":4.08,"w":0.068,"f":2.16e-3,"d":2.3e-4,"m":2.3e-3,"r":-0.6},
{"s":"2020 Oct","e":4.22,"w":0.07,"f":2.64e-3,"d":2.42e-4,"m":2.42e-3,"r":0.9},
{"s":"2020 Oct","e":4.37,"w":0.072,"f":1.95e-3,"d":2.53e-4,"m":2.53e-3,"r":-2.3},
{"s":"2020 Oct","e":4.52,"w":0.075,"f":2.99e-3,"d":2.62e-4,"m":2.62e-3,"r":1.4},
{"s":"2020 Oct","e":4.68,"w":0.077,"f":2.62e-3,"d":2.7e-4,"m":2.7e-3,"r":-0.3},
{"s":"2020 Oct","e":4.84,"w":0.08,"f":3.31e-3,"d":2.76e-4,"m":2.76e-3,"r":2.0},
{"s":"2020 Oct","e":5.01,"w":0.083,"f":2.35e-3,"d":2.8e-4,"m":2.8e-3,"r":-1.6},
{"s":"2020 Oct","e":5.18,"w":0.086,"f":2.96e-3,"d":2.82e-4,"m":2.82e-3,"r":0.5},
{"s":"2020 Oct","e":5.36,"w":0.089,"f":3.53e-3,"d":2.82e-4,"m":2.82e-3,"r":2.5},
{"s":"2020 Oct","e":5.55,"w":0.092,"f":2.51e-3,"d":2.79e-4,"m":2.79e-3,"r":-1.0},
{"s":"2020 Oct","e":5.74,"w":0.095,"f":2.8e-3,"d":2.72e-4,"m":2.72e-3,"r":0.3},
{"s":"2020 Oct","e":5.94,"w":0.098,"f":2.07e-3,"d":2.62e-4,"m":2.62e-3,"r":-2.1},
{"s":"2020 Oct","e":6.15,"w":0.1,"f":2.78e-3,"d":2.5e-4,"m":2.5e-3,"r":1.1},
{"s":"2020 Oct","e":6.36,"w":0.105,"f":2.24e-3,"d":2.36e-4,"m":2.36e-3,"r":-0.5},
{"s":"2020 Oct","e":6.58,"w":0.109,"f":2.6e-3,"d":2.2e-4,"m":2.2e-3,"r":1.8},
{"s":"2020 Oct","e":6.81,"w":0.113,"f":1.75e-3,"d":2.04e-4,"m":2.04e-3,"r":-1.4},
{"s":"2020 Oct","e":7.05,"w":0.117,"f":2.02e-3,"d":2.26e-4,"m":1.88e-3,"r":0.6},
{"s":"2020 Oct","e":7.30,"w":0.121,"f":1.22e-3,"d":2.06e-4,"m":1.72e-3,"r":-2.4},
{"s":"2020 Oct","e":7.55,"w":0.125,"f":1.75e-3,"d":1.87e-4,"m":1.56e-3,"r":1.0},
{"s":"2020 Oct","e":8.1,"w":0.35,"f":1.2e-3,"d":1.25e-4,"m":1.3e-3,"r":-0.8},
{"s":"2020 Oct","e":2.49,"w":0.041,"f":3.04e-4,"d":4.6e-5,"m":3.55e-4,"r":-1.1},
{"s":"2020 Oct","e":2.57,"w":0.042,"f":4.75e-4,"d":5.6e-5,"m":4.3e-4,"r":0.8},
{"s":"2020 Oct","e":2.66,"w":0.044,"f":5.98e-4,"d":5.2e-5,"m":5.2e-4,"r":1.5},
{"s":"2020 Oct","e":2.75,"w":0.045,"f":6.05e-4,"d":6.3e-5,"m":6.3e-4,"r":-0.4},
{"s":"2020 Oct","e":2.85,"w":0.047,"f":9.27e-4,"d":7.6e-5,"m":7.6e-4,"r":2.2},
{"s":"2020 Oct","e":2.95,"w":0.049,"f":9.68e-4,"d":9.05e-5,"m":9.05e-4,"r":0.7},
{"s":"2020 Oct","e":3.05,"w":0.05,"f":1.376e-3,"d":1.05e-4,"m":1.05e-3,"r":3.1},
{"s":"2020 Oct","e":3.15,"w":0.052,"f":1.416e-3,"d":1.21e-4,"m":1.21e-3,"r":1.7},
{"s":"2020 Oct","e":3.26,"w":0.054,"f":1.247e-3,"d":1.37e-4,"m":1.37e-3,"r":-0.9},
{"s":"2020 Oct","e":3.38,"w":0.056,"f":1.672e-3,"d":1.52e-4,"m":1.52e-3,"r":1.0},
{"s":"2020 Oct","e":3.50,"w":0.058,"f":1.436e-3,"d":1.67e-4,"m":1.67e-3,"r":-1.4},
{"s":"2020 Oct","e":3.62,"w":0.06,"f":1.893e-3,"d":1.82e-4,"m":1.82e-3,"r":0.4},
{"s":"2020 Oct","e":3.74,"w":0.062,"f":2.36e-3,"d":1.97e-4,"m":1.97e-3,"r":2.0},
{"s":"2020 Oct","e":3.87,"w":0.064,"f":2.0e-3,"d":2.1e-4,"m":2.1e-3,"r":-0.5},
{"s":"2020 Oct","e":4.01,"w":0.066,"f":2.51e-3,"d":2.24e-4,"m":2.24e-3,"r":1.2},
{"s":"2020 Oct","e":4.15,"w":0.069,"f":1.91e-3,"d":2.36e-4,"m":2.36e-3,"r":-1.9},
{"s":"2020 Oct","e":4.30,"w":0.071,"f":2.63e-3,"d":2.48e-4,"m":2.48e-3,"r":0.6},
{"s":"2020 Oct","e":4.45,"w":0.074,"f":3.07e-3,"d":2.58e-4,"m":2.58e-3,"r":1.9},
{"s":"2020 Oct","e":4.60,"w":0.076,"f":2.37e-3,"d":2.66e-4,"m":2.66e-3,"r":-1.1},
{"s":"2020 Oct","e":4.76,"w":0.079,"f":2.78e-3,"d":2.73e-4,"m":2.73e-3,"r":0.2},
{"s":"2020 Oct","e":4.92,"w":0.082,"f":2.09e-3,"d":2.78e-4,"m":2.78e-3,"r":-2.5},
{"s":"2020 Oct","e":5.09,"w":0.084,"f":3.18e-3,"d":2.81e-4,"m":2.81e-3,"r":1.3},
{"s":"2020 Oct","e":5.27,"w":0.087,"f":2.74e-3,"d":2.82e-4,"m":2.82e-3,"r":-0.3},
{"s":"2020 Oct","e":5.45,"w":0.09,"f":3.06e-3,"d":2.81e-4,"m":2.81e-3,"r":0.9},
{"s":"2020 Oct","e":5.64,"w":0.093,"f":2.35e-3,"d":2.76e-4,"m":2.76e-3,"r":-1.5},
{"s":"2020 Oct","e":5.84,"w":0.097,"f":3.23e-3,"d":2.67e-4,"m":2.67e-3,"r":2.1},
{"s":"2020 Oct","e":6.04,"w":0.1,"f":2.59e-3,"d":2.56e-4,"m":2.56e-3,"r":0.1},
{"s":"2020 Oct","e":6.25,"w":0.104,"f":1.99e-3,"d":2.43e-4,"m":2.43e-3,"r":-1.8},
{"s":"2020 Oct","e":6.47,"w":0.107,"f":2.44e-3,"d":2.28e-4,"m":2.28e-3,"r":0.7},
{"s":"2020 Oct","e":6.69,"w":0.111,"f":2.63e-3,"d":2.12e-4,"m":2.12e-3,"r":2.4},
{"s":"2020 Oct","e":6.93,"w":0.115,"f":1.84e-3,"d":1.96e-4,"m":1.96e-3,"r":-0.6},
{"s":"2020 Oct","e":7.17,"w":0.119,"f":2.1e-3,"d":2.16e-4,"m":1.8e-3,"r":1.4},
{"s":"2020 Oct","e":7.42,"w":0.123,"f":1.4e-3,"d":1.97e-4,"m":1.64e-3,"r":-1.2}
]},
"data":{"name":"d"},
"vconcat":[
{"width":313,"height":325,
"encoding":{
"x":{"field":"e","type":"quantitative","scale":{"type":"log","domain":[0.6862,21.58],"nice":false},
"axis":{"values":[0.7,0.8,0.9,1,2,3,4,5,6,7,8,9,10,20],"labels":false,"title":null,
"tickSize":{"condition":{"test":"datum.value==1||datum.value==10","value":-10},"value":-6},
"tickWidth":{"condition":{"test":"datum.value==1||datum.value==10","value":1.4},"value":1}}},
"color":{"field":"s","type":"nominal","scale":{"domain":["2020 Mar","2020 Apr","2020 Sep","2020 Oct"],"range":["#000000","#ff0000","#0000ff","#008000"]},
"legend":{"orient":"none","legendX":188.5,"legendY":225.5,"title":null}}
},
"layer":[
{"mark":{"type":"line","interpolate":"step","opacity":0.5,"strokeWidth":1.2},
"encoding":{"y":{"field":"m","type":"quantitative","scale":{"type":"log","domain":[2.133e-7,0.02649],"nice":false},
"axis":{"values":[3e-7,4e-7,5e-7,6e-7,7e-7,8e-7,9e-7,1e-6,2e-6,3e-6,4e-6,5e-6,6e-6,7e-6,8e-6,9e-6,1e-5,2e-5,3e-5,4e-5,5e-5,6e-5,7e-5,8e-5,9e-5,1e-4,2e-4,3e-4,4e-4,5e-4,6e-4,7e-4,8e-4,9e-4,1e-3,2e-3,3e-3,4e-3,5e-3,6e-3,7e-3,8e-3,9e-3,1e-2,2e-2],
"labelExpr":"datum.value==1e-6?'10⁻⁶':datum.value==1e-5?'10⁻⁵':datum.value==1e-4?'10⁻⁴':datum.value==1e-3?'10⁻³':datum.value==1e-2?'10⁻²':''",
"tickSize":{"condition":{"test":"indexof([1e-6,1e-5,1e-4,1e-3,1e-2],datum.value)>=0","value":-10},"value":-6},
"tickWidth":{"condition":{"test":"indexof([1e-6,1e-5,1e-4,1e-3,1e-2],datum.value)>=0","value":1.4},"value":1},
"labelFontSize":10.5,"labelPadding":25.5,"title":"keV² (Photons cm⁻² s⁻¹ keV⁻¹)","titleFontSize":13,"titleX":-39,"titleY":133,"titleBaseline":"alphabetic"}}}},
{"mark":{"type":"errorbar","thickness":1.2},
"encoding":{"y":{"field":"f","type":"quantitative","scale":{"type":"log","domain":[2.133e-7,0.02649],"nice":false},
"axis":{"values":[3e-7,4e-7,5e-7,6e-7,7e-7,8e-7,9e-7,1e-6,2e-6,3e-6,4e-6,5e-6,6e-6,7e-6,8e-6,9e-6,1e-5,2e-5,3e-5,4e-5,5e-5,6e-5,7e-5,8e-5,9e-5,1e-4,2e-4,3e-4,4e-4,5e-4,6e-4,7e-4,8e-4,9e-4,1e-3,2e-3,3e-3,4e-3,5e-3,6e-3,7e-3,8e-3,9e-3,1e-2,2e-2],
"labelExpr":"datum.value==1e-6?'10⁻⁶':datum.value==1e-5?'10⁻⁵':datum.value==1e-4?'10⁻⁴':datum.value==1e-3?'10⁻³':datum.value==1e-2?'10⁻²':''",
"tickSize":{"condition":{"test":"indexof([1e-6,1e-5,1e-4,1e-3,1e-2],datum.value)>=0","value":-10},"value":-6},
"tickWidth":{"condition":{"test":"indexof([1e-6,1e-5,1e-4,1e-3,1e-2],datum.value)>=0","value":1.4},"value":1},
"labelFontSize":10.5,"labelPadding":25.5,"title":"keV² (Photons cm⁻² s⁻¹ keV⁻¹)","titleFontSize":13,"titleX":-39,"titleY":133,"titleBaseline":"alphabetic"}},
"yError":{"field":"d"}}},
{"mark":{"type":"errorbar","thickness":1.2},
"encoding":{"y":{"field":"f","type":"quantitative"},"xError":{"field":"w"}}}
]},
{"width":313,"height":108,
"layer":[
{"mark":{"type":"tick","orient":"vertical","size":28.7,"thickness":1.3,"opacity":1,"clip":true},
"encoding":{
"x":{"field":"e","type":"quantitative","scale":{"type":"log","domain":[0.6862,21.58],"nice":false},
"axis":{"values":[0.7,0.8,0.9,1,2,3,4,5,6,7,8,9,10,20],"labelExpr":"datum.value==1?'1':datum.value==10?'10':''","labelFontSize":12,"labelPadding":19,"title":"Energy (keV)","titlePadding":-1,
"tickSize":{"condition":{"test":"datum.value==1||datum.value==10","value":-10},"value":-6},
"tickWidth":{"condition":{"test":"datum.value==1||datum.value==10","value":1.4},"value":1}}},
"y":{"field":"r","type":"quantitative","scale":{"domain":[-3.589,3.937],"nice":false,"zero":false},
"axis":{"values":[-2,0,2],"tickSize":-10,"tickWidth":1.4,"labelPadding":19.5,"title":"σ","titleX":-38.5,"titleY":55,"titleBaseline":"alphabetic"}},
"color":{"field":"s","type":"nominal","scale":{"domain":["2020 Mar","2020 Apr","2020 Sep","2020 Oct"],"range":["#000000","#ff0000","#0000ff","#008000"]},"legend":null}}},
{"transform":[{"filter":"datum.r < 3.9"}],
"mark":{"type":"errorbar","thickness":1.2},
"encoding":{
"x":{"field":"e","type":"quantitative","title":"Energy (keV)"},
"xError":{"field":"w"},
"y":{"field":"r","type":"quantitative","title":"σ"},
"color":{"field":"s","type":"nominal","legend":null}}},
{"data":{"values":[{}]},
"mark":{"type":"rule","color":"#00ff00","strokeWidth":1.5},
"encoding":{"y":{"datum":0,"type":"quantitative","title":"σ"}}}
]}
]
}
